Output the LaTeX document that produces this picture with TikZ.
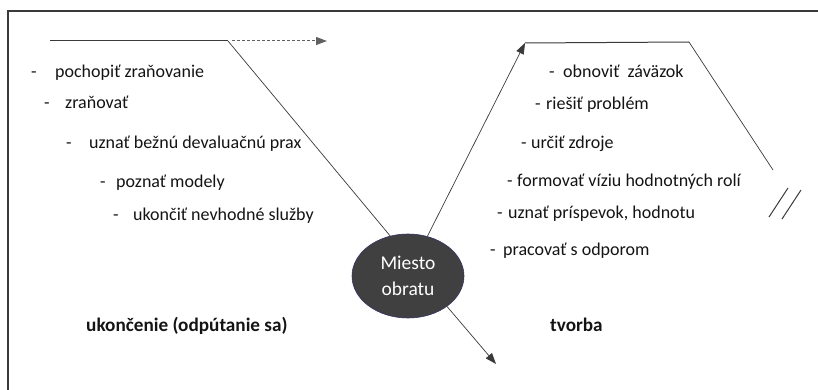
\documentclass[tikz,border=0pt]{standalone}
\usepackage{fontspec}
\setmainfont{Carlito}
\usetikzlibrary{arrows.meta,shapes.geometric}
\definecolor{ink}{HTML}{3A3A3A}
\definecolor{hub}{HTML}{404040}
\newcommand{\itemsize}{\fontsize{18}{22}\selectfont}
\newcommand{\phasesize}{\fontsize{19.2}{22}\selectfont}
\newcommand{\bul}[2]{\makebox[#1pt][l]{-}#2}
\tikzset{
  frame/.style={draw=ink, line width=1.4pt},
  conn/.style={draw=ink, line width=0.7pt},
  tip/.style={-{Triangle[length=11pt,width=8pt]}},
  item/.style={anchor=mid west, inner sep=0pt, font=\itemsize, text=black!92},
  phase/.style={anchor=mid west, inner sep=0pt, font=\phasesize\bfseries, text=black!92},
  turning/.style={ellipse, fill=hub, draw=blue!20!hub, line width=0.6pt,
    minimum width=112pt, minimum height=84pt, inner sep=0pt,
    text=white, align=center, font=\fontsize{19.5}{26}\selectfont}
}
\begin{document}
\begin{tikzpicture}[x=1pt,y=-1pt]
\useasboundingbox (0,0) rectangle (818,390);

% open frame (left and top edges)
\draw[frame] (8,390) -- (8,11) -- (818,11);

% turning point
\node[turning] (turn) at (408,276) {Miesto\\obratu};

% ending branch (left)
\coordinate (endStart) at (50,41);
\coordinate (endCorner) at (228,41);
\coordinate (endNext) at (327,41);
\draw[conn, line width=1pt] (endStart) -- (endCorner);
\draw[conn, dashed, dash pattern=on 3pt off 2pt, line width=1pt, tip, draw=ink!80] (endCorner) ++(4,0) -- (endNext);
\draw[conn] (endCorner) -- (turn.114);

% creation branch (right)
\coordinate (creTip) at (525,43);
\coordinate (creCorner) at (689,42);
\coordinate (creEnd) at (773,170);
\draw[conn, tip] (turn.64) -- (creTip);
\draw[conn, line width=1pt] (creTip) -- (creCorner);
\draw[conn] (creCorner) -- (creEnd);

% break mark
\draw[conn, line width=1pt] (769,217) -- (788,188);
\draw[conn, line width=1pt] (782,219) -- (801,190);

% outgoing arrow
\coordinate (outTip) at (496,364);
\draw[conn, tip] (turn.-38) -- (outTip);

% ending steps
\node[item] (l1) at (31,75)  {\bul{24}{pochopiť zraňovanie}};
\node[item] (l2) at (44,106) {\bul{21}{zraňovať}};
\node[item] (l3) at (66,146) {\bul{23}{uznať bežnú devaluačnú prax}};
\node[item] (l4) at (100,185) {\bul{16}{poznať modely}};
\node[item] (l5) at (113,218) {\bul{20}{ukončiť nevhodné služby}};

% creation steps
\node[item] (r1) at (549,75)  {\bul{14}{obnoviť\ \ záväzok}};
\node[item] (r2) at (535,107) {\bul{11}{riešiť problém}};
\node[item] (r3) at (521,146) {\bul{10}{určiť zdroje}};
\node[item] (r4) at (507,184) {\bul{10}{formovať víziu hodnotných rolí}};
\node[item] (r5) at (497,216) {\bul{11}{uznať príspevok, hodnotu}};
\node[item] (r6) at (490,253) {\bul{13}{pracovať s odporom}};

% phase labels
\node[phase] (ending) at (86,329) {ukončenie (odpútanie sa)};
\node[phase] (creation) at (550,329) {tvorba};
\end{tikzpicture}
\end{document}
